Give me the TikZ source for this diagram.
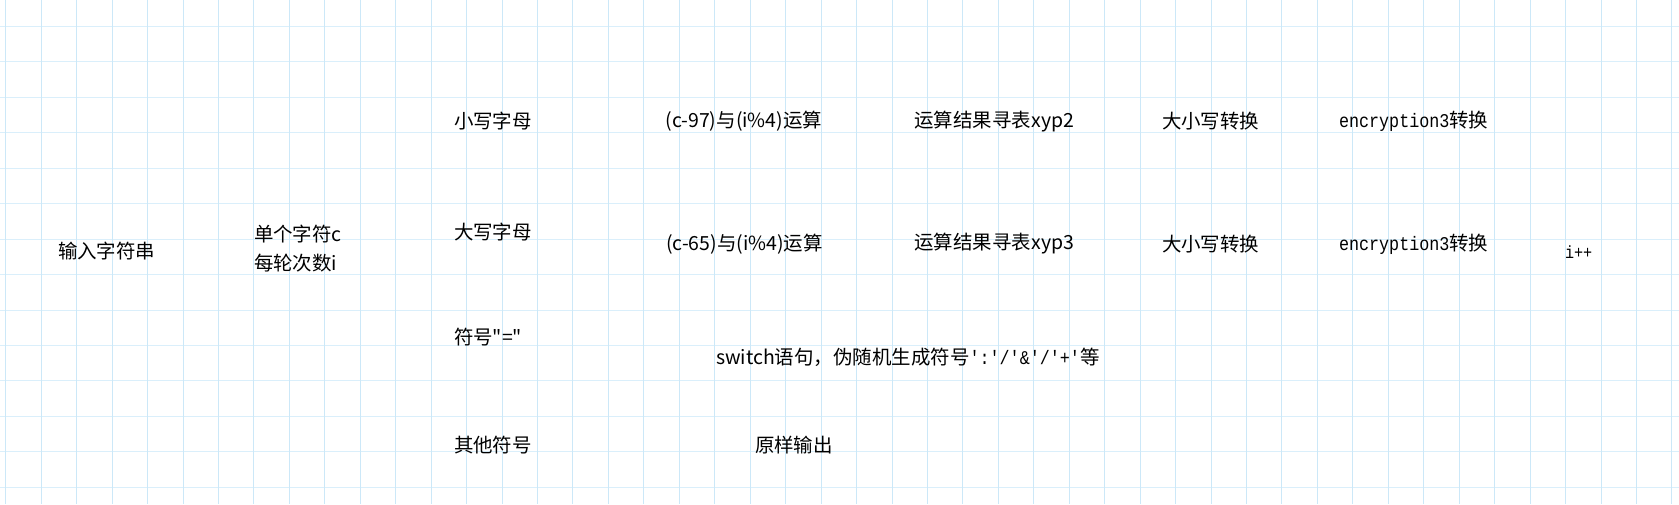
\documentclass[tikz,border=0pt]{standalone}
\usepackage{fontspec}
\setmainfont{Noto Sans CJK SC}[Ligatures=TeXOff]
\newfontfamily\monofont{Liberation Mono}[FakeStretch=0.86]
\definecolor{gridv}{RGB}{204,232,248}
\definecolor{gridh}{RGB}{218,239,251}
\begin{document}
\begin{tikzpicture}[x=0.75pt,y=-0.75pt,
  lbl/.style={inner sep=0pt,outer sep=0pt,anchor=west,text=black,
    font=\fontsize{14.6}{18}\selectfont},
  gridvline/.style={draw=gridv,line width=0.9pt},
  gridhline/.style={draw=gridh,line width=1.2pt}]
\useasboundingbox (0,0) rectangle (1679,504);
\fill[white] (0,0) rectangle (1679,504);
\foreach \k in {0,...,13} \draw[gridhline] (0,{round(26+35.45*\k)+0.5}) -- (1679,{round(26+35.45*\k)+0.5});
\foreach \k in {0,...,47} \draw[gridvline] ({round(5.3+35.45*\k)+0.5},0) -- ({round(5.3+35.45*\k)+0.5},504);
% column 1-2
\node[lbl] (input) at (58,251) {输入字符串};
\node[lbl] (char) at (254,234) {单个字符c};
\node[lbl] (round) at (254,263) {每轮次数i};
% character classes
\node[lbl] (lower) at (454,121.5) {小写字母};
\node[lbl] (upper) at (454,232) {大写字母};
\node[lbl] (eq) at (454,337) {符号"="};
\node[lbl] (other) at (454,444.6) {其他符号};
% lowercase row
\node[lbl] (op97) at (665.5,121.5) {(c-97)与(i\%4)运算};
\node[lbl] (xyp2) at (914.5,121.5) {运算结果寻表xyp2};
\node[lbl] (case1) at (1162,121.5) {大小写转换};
\node[lbl] (enc1) at (1339,121.5) {{\monofont encryption3}转换};
% uppercase row
\node[lbl] (op65) at (666,244) {(c-65)与(i\%4)运算};
\node[lbl] (xyp3) at (914.5,244) {运算结果寻表xyp3};
\node[lbl] (case2) at (1162,244) {大小写转换};
\node[lbl] (enc2) at (1339,244) {{\monofont encryption3}转换};
\node[lbl,font=\monofont\fontsize{13.2}{15}\selectfont] (inc) at (1565,252) {i++};
% symbol rows
\node[lbl] (sw) at (716,357) {switch语句，伪随机生成符号{\monofont ':'/'\&'/'+'}等};
\node[lbl] (raw) at (755,444.6) {原样输出};
\end{tikzpicture}
\end{document}
